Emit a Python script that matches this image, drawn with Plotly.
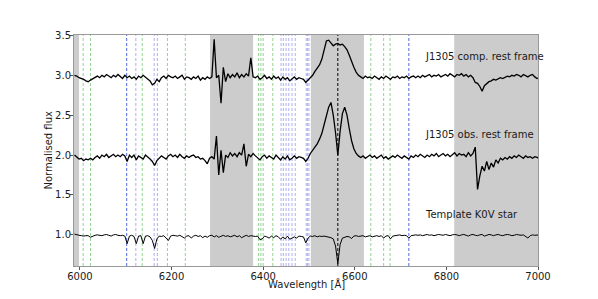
import plotly.graph_objects as go

# Wavelength sampling of the three spectra (Angstrom), 5 A steps starting at 5988
WAVE_START = 5988
WAVE_STEP = 5

# J1305 comp. rest frame (offset spectrum around 3.0)
flux_comp = [
    3.00, 2.99, 2.97, 2.96, 2.95, 2.93, 2.92, 2.94, 2.96, 2.98,  # 5988
    2.99, 2.97, 3.00, 2.98, 3.01, 2.99, 2.97, 3.00, 2.98, 3.01,  # 6038
    2.99, 2.96, 3.00, 2.97, 2.99, 2.96, 2.98, 2.95, 2.99, 2.97,  # 6088
    3.00, 2.98, 2.96, 2.93, 2.88, 2.90, 2.95, 2.92, 2.97, 2.99,  # 6138
    2.96, 3.00, 2.98, 2.97, 2.99, 2.96, 2.98, 3.00, 2.95, 2.98,  # 6188
    2.97, 2.95, 2.98, 2.96, 2.99, 2.94, 2.97, 2.95, 2.98, 2.96,  # 6238
    2.98, 3.45, 2.97, 3.00, 2.65, 3.10, 2.92, 3.02, 2.97, 3.01,  # 6288
    2.98, 3.03, 2.97, 3.01, 2.98, 3.02, 2.99, 3.22, 2.98, 2.97,  # 6338
    2.99, 2.95, 2.97, 3.00, 2.96, 2.98, 2.95, 2.99, 2.96, 2.98,  # 6388
    2.94, 2.98, 2.95, 2.97, 2.93, 2.96, 2.98, 2.95, 2.97, 2.96,  # 6438
    2.95, 2.91, 2.94, 2.97, 3.00, 3.05, 3.09, 3.13, 3.20, 3.33,  # 6488
    3.43, 3.44, 3.40, 3.37, 3.39, 3.40, 3.38, 3.39, 3.36, 3.32,  # 6538
    3.25, 3.17, 3.10, 3.04, 3.00, 2.98, 2.96, 2.99, 2.97, 2.98,  # 6588
    2.96, 2.99, 2.97, 2.95, 2.98, 2.96, 2.99, 2.97, 2.95, 2.98,  # 6638
    2.97, 2.99, 2.96, 2.98, 2.97, 2.99, 2.96, 2.98, 2.99, 2.97,  # 6688
    2.99, 2.97, 3.00, 2.98, 2.99, 3.01, 2.98, 3.00, 2.99, 3.01,  # 6738
    2.98, 3.00, 3.01, 2.99, 3.02, 3.00, 2.98, 3.01, 3.00, 3.02,  # 6788
    2.99, 3.01, 2.98, 3.00, 2.97, 2.91, 2.90, 2.86, 2.80, 2.87,  # 6838
    2.90, 2.92, 2.93, 2.95, 2.94, 2.96, 2.97, 2.96, 2.98, 2.99,  # 6888
    2.98, 3.00, 2.99, 3.01, 3.00, 2.98, 3.01, 3.00, 2.98, 3.00,  # 6938
    3.01, 2.98, 2.96, 2.97,                                      # 6988
]

# J1305 obs. rest frame (offset spectrum around 2.0)
flux_obs = [
    2.00, 1.97, 1.95, 1.96, 1.93, 1.95, 1.94, 1.96, 1.94, 1.97,  # 5988
    1.99, 1.96, 2.00, 1.98, 2.01, 1.97, 1.99, 2.01, 1.98, 2.00,  # 6038
    1.98, 2.01, 1.99, 1.92, 2.00, 1.97, 2.00, 1.94, 1.99, 1.97,  # 6088
    1.95, 2.00, 1.98, 1.95, 1.92, 1.87, 1.93, 1.96, 1.99, 1.97,  # 6138
    1.95, 1.99, 2.01, 1.98, 2.00, 1.97, 2.01, 1.98, 1.96, 1.99,  # 6188
    1.97, 1.99, 2.00, 1.97, 1.98, 1.95, 1.96, 1.93, 1.89, 1.96,  # 6238
    1.98, 1.95, 2.24, 1.75, 2.06, 1.78, 2.00, 1.97, 2.03, 1.99,  # 6288
    2.02, 1.98, 2.03, 2.00, 2.14, 1.86, 2.01, 1.98, 2.02, 1.99,  # 6338
    1.97, 1.94, 1.98, 2.00, 1.96, 1.99, 1.97, 1.95, 2.00, 1.97,  # 6388
    1.94, 1.98, 1.95, 1.99, 1.94, 1.96, 1.99, 1.96, 1.98, 1.97,  # 6438
    1.96, 1.92, 1.96, 2.02, 2.06, 2.10, 2.14, 2.20, 2.27, 2.38,  # 6488
    2.50, 2.60, 2.66, 2.50, 2.28, 2.00, 2.30, 2.52, 2.60, 2.50,  # 6538
    2.33, 2.18, 2.08, 2.02, 1.99, 1.97, 1.99, 1.96, 1.98, 2.00,  # 6588
    1.97, 1.99, 1.96, 1.98, 2.00, 1.96, 1.98, 1.95, 1.97, 1.99,  # 6638
    1.97, 2.00, 1.98, 1.96, 1.99, 1.97, 1.95, 1.99, 1.97, 2.00,  # 6688
    1.98, 2.01, 1.99, 1.97, 2.00, 1.98, 2.01, 1.99, 2.02, 1.98,  # 6738
    2.00, 2.02, 1.99, 2.01, 1.98, 2.01, 2.03, 1.99, 2.02, 2.00,  # 6788
    2.01, 1.98, 2.03, 1.99, 2.02, 2.10, 1.57, 1.74, 1.86, 1.80,  # 6838
    1.92, 1.82, 1.90, 1.85, 1.94, 1.90, 1.96, 1.94, 1.97, 1.95,  # 6888
    1.98, 1.96, 1.99, 1.97, 2.00, 1.98, 1.96, 1.99, 1.97, 1.98,  # 6938
    1.96, 1.98, 1.97, 1.96,                                      # 6988
]

# Template K0V star (around 1.0)
flux_tmpl = [
    1.010, 1.000, 0.995, 0.990, 0.985, 0.990, 0.990, 0.970, 0.985, 0.995,  # 5988
    1.000, 0.995, 0.990, 1.000, 1.005, 0.995, 0.985, 1.000, 1.005, 0.995,  # 6038
    0.990, 0.995, 0.985, 0.890, 0.985, 0.995, 0.980, 0.890, 0.985, 0.990,  # 6088
    0.890, 0.985, 0.990, 0.975, 0.930, 0.830, 0.950, 0.985, 0.980, 0.990,  # 6138
    0.960, 0.930, 0.985, 0.995, 0.990, 0.985, 0.995, 0.980, 0.960, 0.985,  # 6188
    0.990, 0.960, 0.985, 0.995, 0.980, 0.990, 0.965, 0.985, 0.970, 0.990,  # 6238
    0.995, 0.975, 0.990, 0.970, 0.985, 0.995, 0.980, 0.990, 0.975, 0.985,  # 6288
    0.995, 0.975, 0.990, 0.965, 0.985, 0.995, 0.980, 0.990, 0.985, 0.980,  # 6338
    0.985, 0.940, 0.950, 0.985, 0.975, 0.960, 0.985, 0.965, 0.990, 0.975,  # 6388
    0.945, 0.975, 0.950, 0.985, 0.945, 0.960, 0.975, 0.960, 0.985, 0.980,  # 6438
    0.975, 0.900, 0.960, 0.985, 0.980, 0.990, 0.975, 0.985, 0.980, 0.985,  # 6488
    0.980, 0.975, 0.965, 0.950, 0.860, 0.640, 0.880, 0.960, 0.975, 0.980,  # 6538
    0.975, 0.955, 0.985, 0.990, 0.980, 0.985, 0.990, 0.975, 0.985, 0.990,  # 6588
    0.975, 0.985, 0.990, 0.980, 0.990, 0.960, 0.985, 0.990, 0.950, 0.985,  # 6638
    0.990, 0.995, 1.000, 0.990, 0.995, 0.990, 0.960, 0.990, 0.995, 1.000,  # 6688
    0.995, 1.000, 0.990, 1.000, 1.005, 0.995, 1.000, 0.990, 1.000, 1.005,  # 6738
    1.000, 0.995, 1.005, 1.000, 0.990, 1.000, 1.005, 1.000, 0.990, 1.000,  # 6788
    1.005, 0.995, 0.985, 1.000, 1.005, 0.995, 0.990, 1.000, 1.005, 0.985,  # 6838
    0.995, 1.005, 1.000, 0.990, 1.000, 1.005, 0.995, 0.990, 1.000, 1.005,  # 6888
    1.000, 0.990, 0.995, 1.005, 1.000, 0.995, 1.000, 0.980, 0.960, 0.990,  # 6938
    1.000, 0.995, 1.000, 1.000,                                            # 6988
]

# Masked (grey) wavelength regions
masked_regions = [(5987, 5998), (6284, 6378), (6504, 6620), (6817, 7000)]

# Line markers
halpha_line = 6563
lines_blue = [6102, 6718]
lines_lavender = [6122, 6162, 6169, 6439, 6444, 6450, 6456, 6463, 6470, 6494, 6497, 6500]
lines_green = [6007, 6023, 6136, 6191, 6230, 6390, 6395, 6400, 6421, 6635, 6663, 6677]

labels = ["J1305 comp. rest frame", "J1305 obs. rest frame", "Template K0V star"]
label_y = [3.24, 2.26, 1.26]
label_x = 6750

x_ticks = [6000, 6200, 6400, 6600, 6800, 7000]
y_ticks = [1.0, 1.5, 2.0, 2.5, 3.0, 3.5]
x_title = "Wavelength [Å]"
y_title = "Normalised flux"

FONT = "DejaVu Sans"
TXT = "#1a1a1a"

fig = go.Figure()

for flux, lw in [(flux_comp, 1.3), (flux_obs, 1.3), (flux_tmpl, 1.0)]:
    wave = [WAVE_START + WAVE_STEP * i for i in range(len(flux))]
    fig.add_trace(go.Scatter(x=wave, y=flux, mode="lines",
                             line=dict(color="black", width=lw),
                             showlegend=False, hoverinfo="skip"))

shapes = []
for x0, x1 in masked_regions:
    shapes.append(dict(type="rect", xref="x", yref="paper", x0=x0, x1=x1, y0=0, y1=1,
                       fillcolor="#cccccc", line=dict(width=0), layer="below"))
for xs, col in [(lines_green, "rgba(120,200,120,0.8)"),
                (lines_lavender, "rgba(140,140,240,0.7)"),
                (lines_blue, "rgba(60,90,220,0.9)")]:
    for xv in xs:
        shapes.append(dict(type="line", xref="x", yref="paper", x0=xv, x1=xv, y0=0, y1=1,
                           line=dict(color=col, width=1, dash="3px,2px"), layer="below"))
shapes.append(dict(type="line", xref="x", yref="paper", x0=halpha_line, x1=halpha_line, y0=0, y1=1,
                   line=dict(color="black", width=1, dash="3px,2px"), layer="above"))

annotations = []
for t, yv in zip(labels, label_y):
    annotations.append(dict(x=label_x, y=yv, xref="x", yref="y", text=t, showarrow=False,
                            xanchor="left", yanchor="middle",
                            font=dict(family=FONT, size=10, color=TXT)))
# axis titles
annotations.append(dict(x=0.5, y=-0.078, xref="paper", yref="paper", text=x_title,
                        showarrow=False, xanchor="center", yanchor="middle",
                        font=dict(family=FONT, size=10, color=TXT)))
annotations.append(dict(x=-0.056, y=0.5, xref="paper", yref="paper", text=y_title,
                        showarrow=False, xanchor="center", yanchor="middle", textangle=-90,
                        font=dict(family=FONT, size=10, color=TXT)))

# The page body adds an 8 px offset, so the figure is sized to fit inside 598x299
fig.update_layout(
    width=590, height=291,
    margin=dict(l=66, r=60, t=27, b=33),
    paper_bgcolor="white", plot_bgcolor="white",
    shapes=shapes, annotations=annotations,
    font=dict(family=FONT, size=10, color=TXT),
)
fig.update_xaxes(range=[5987, 7000], tickvals=x_ticks, ticktext=[str(v) for v in x_ticks],
                 showgrid=False, zeroline=False, showline=True, mirror=True,
                 linecolor="#999999", linewidth=1, ticks="outside", ticklen=3,
                 tickcolor="#555555", ticklabelstandoff=-2, automargin=False)
fig.update_yaxes(range=[0.61, 3.505], tickvals=y_ticks, ticktext=[f"{v:.1f}" for v in y_ticks],
                 showgrid=False, zeroline=False, showline=True, mirror=True,
                 linecolor="#999999", linewidth=1, ticks="outside", ticklen=3,
                 tickcolor="#555555", ticklabelstandoff=-3, automargin=False)

fig.write_html("out.html")
